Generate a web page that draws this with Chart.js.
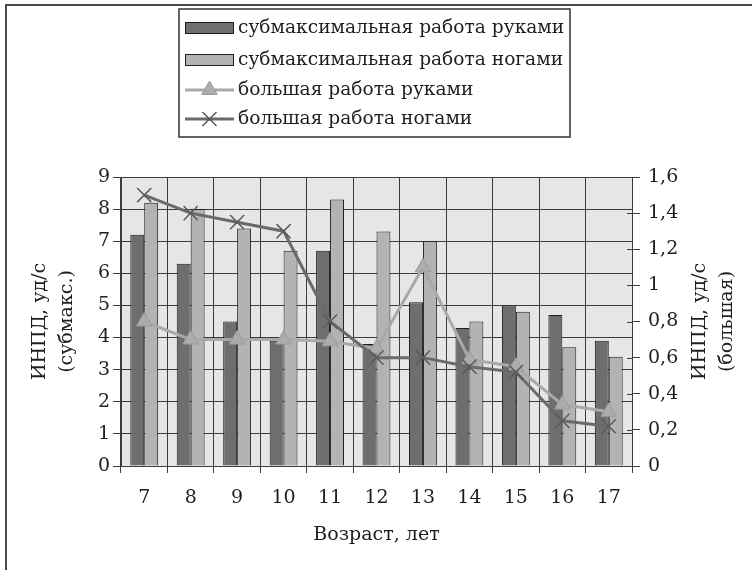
<!DOCTYPE html>
<html>
<head>
<meta charset="utf-8">
<script src="https://cdn.jsdelivr.net/npm/chart.js@4/dist/chart.umd.min.js"></script>
<style>
  html, body { margin: 0; padding: 0; background: #ffffff; }
  #wrap { position: relative; width: 752px; height: 570px; }
</style>
</head>
<body>
<div id="wrap"><canvas id="c" width="752" height="570"></canvas></div>
<script>
// Age groups, years
const ages = ['7', '8', '9', '10', '11', '12', '13', '14', '15', '16', '17'];

// ИНПД, submaximal work (left axis)
const subArms = [7.2, 6.3, 4.5, 3.9, 6.7, 3.8, 5.1, 4.3, 5.0, 4.7, 3.9];
const subLegs = [8.2, 8.0, 7.4, 6.7, 8.3, 7.3, 7.0, 4.5, 4.8, 3.7, 3.4];

// ИНПД, heavy work (right axis)
const bigArms = [0.80, 0.70, 0.70, 0.70, 0.69, 0.65, 1.10, 0.59, 0.55, 0.34, 0.30];
const bigLegs = [1.50, 1.40, 1.35, 1.30, 0.80, 0.60, 0.60, 0.55, 0.52, 0.25, 0.22];

// Axis labels
const leftTitle = ['ИНПД, уд/с', '(субмакс.)'];
const rightTitle = ['ИНПД, уд/с', '(большая)'];
const xTitle = 'Возраст, лет';

const FONT = 'DejaVu Serif';
const INK = '#1e1e1e';
const GRID = '#3c3c3c';

Chart.defaults.font.family = FONT;
Chart.defaults.font.size = 19;
Chart.defaults.color = INK;

// Grey plot background, outer frame, right-axis inner ticks, right title, legend
const decor = {
  id: 'decor',
  beforeDraw(chart) {
    const { ctx, chartArea: a } = chart;
    ctx.save();
    ctx.fillStyle = '#e6e6e6';
    ctx.fillRect(a.left, a.top, a.right - a.left, a.bottom - a.top);
    ctx.restore();
  },
  afterDraw(chart) {
    const { ctx, chartArea: a } = chart;
    ctx.save();

    // frame (left and top edges)
    ctx.strokeStyle = '#4a4a4a';
    ctx.lineWidth = 2;
    ctx.beginPath();
    ctx.moveTo(6, 570);
    ctx.lineTo(6, 5);
    ctx.lineTo(752, 5);
    ctx.stroke();

    // right axis ticks crossing into the plot
    const y1 = chart.scales.y1;
    ctx.strokeStyle = GRID;
    ctx.lineWidth = 1;
    y1.ticks.forEach((t, i) => {
      const y = Math.round(y1.getPixelForTick(i)) + 0.5;
      ctx.beginPath();
      ctx.moveTo(a.right - 5, y);
      ctx.lineTo(a.right, y);
      ctx.stroke();
    });

    // right axis title, read bottom-to-top
    ctx.fillStyle = INK;
    ctx.font = '19px "' + FONT + '"';
    ctx.textAlign = 'center';
    ctx.textBaseline = 'middle';
    const cy = (a.top + a.bottom) / 2;
    [700, 727].forEach((x, i) => {
      ctx.save();
      ctx.translate(x, cy);
      ctx.rotate(-Math.PI / 2);
      ctx.fillText(rightTitle[i], 0, 0);
      ctx.restore();
    });

    // legend
    const box = { l: 179, t: 9, r: 570, b: 137 };
    ctx.strokeStyle = '#333333';
    ctx.lineWidth = 1.5;
    ctx.strokeRect(box.l, box.t, box.r - box.l, box.b - box.t);
    const rows = [28, 60, 90, 119];
    const sx = 185, sw = 49, tx = 238;
    ctx.font = '18.6px "' + FONT + '"';
    ctx.textAlign = 'left';
    chart.data.datasets.forEach((ds, i) => {
      const y = rows[i];
      if (ds.type === 'bar') {
        ctx.fillStyle = ds.backgroundColor;
        ctx.fillRect(sx, y - 6, sw, 12);
        ctx.strokeStyle = ds.borderColor;
        ctx.lineWidth = 1;
        ctx.strokeRect(sx + 0.5, y - 5.5, sw - 1, 11);
      } else {
        ctx.strokeStyle = ds.borderColor;
        ctx.lineWidth = 3;
        ctx.beginPath();
        ctx.moveTo(sx, y);
        ctx.lineTo(sx + sw, y);
        ctx.stroke();
        ctx.fillStyle = ds.pointBackgroundColor;
        ctx.strokeStyle = ds.pointBorderColor;
        ctx.lineWidth = ds.pointBorderWidth;
        Chart.helpers.drawPoint(ctx, {
          pointStyle: ds.pointStyle,
          radius: ds.pointRadius,
          borderWidth: ds.pointBorderWidth,
          rotation: 0
        }, sx + sw / 2, y);
      }
      ctx.fillStyle = INK;
      ctx.fillText(ds.label, tx, y);
    });
    ctx.restore();
  }
};

new Chart(document.getElementById('c'), {
  data: {
    labels: ages,
    datasets: [
      {
        type: 'bar',
        label: 'субмаксимальная работа руками',
        data: subArms,
        yAxisID: 'y',
        backgroundColor: '#6e6e70',
        borderColor: '#1e1e1e',
        borderWidth: 1,
        categoryPercentage: 0.6,
        barPercentage: 1.0,
        order: 2
      },
      {
        type: 'bar',
        label: 'субмаксимальная работа ногами',
        data: subLegs,
        yAxisID: 'y',
        backgroundColor: '#b3b3b3',
        borderColor: '#1e1e1e',
        borderWidth: 1,
        categoryPercentage: 0.6,
        barPercentage: 1.0,
        order: 2
      },
      {
        type: 'line',
        label: 'большая работа руками',
        data: bigArms,
        yAxisID: 'y1',
        borderColor: '#a9a9a9',
        borderWidth: 3,
        pointStyle: 'triangle',
        pointRadius: 9,
        pointBackgroundColor: '#acacac',
        pointBorderColor: '#9c9c9c',
        pointBorderWidth: 1,
        tension: 0,
        order: 1
      },
      {
        type: 'line',
        label: 'большая работа ногами',
        data: bigLegs,
        yAxisID: 'y1',
        borderColor: '#6a6a6a',
        borderWidth: 3,
        pointStyle: 'crossRot',
        pointRadius: 10,
        pointBackgroundColor: '#6a6a6a',
        pointBorderColor: '#5a5a5a',
        pointBorderWidth: 1.5,
        tension: 0,
        order: 0
      }
    ]
  },
  options: {
    responsive: false,
    animation: false,
    layout: { padding: { top: 177, left: 0, right: 0, bottom: 0 } },
    plugins: {
      legend: { display: false },
      tooltip: { enabled: false }
    },
    scales: {
      x: {
        offset: true,
        grid: { color: GRID, lineWidth: 1, tickLength: 7, offset: true },
        border: { color: GRID, width: 1 },
        ticks: { padding: 14, color: INK },
        title: {
          display: true,
          text: xTitle,
          color: INK,
          padding: { top: 0, bottom: 24 }
        },
        afterFit(scale) { scale.height = 104; }
      },
      y: {
        position: 'left',
        min: 0,
        max: 9,
        ticks: { stepSize: 1, padding: 3, color: INK },
        grid: { color: GRID, lineWidth: 1, tickLength: 8 },
        border: { color: GRID, width: 1 },
        title: {
          display: true,
          text: leftTitle,
          color: INK,
          font: { size: 19, lineHeight: 1.45 },
          padding: { top: 26, bottom: 0 }
        },
        afterFit(scale) { scale.width = 121; }
      },
      y1: {
        position: 'right',
        min: 0,
        max: 1.6,
        ticks: {
          stepSize: 0.2,
          padding: 8,
          color: INK,
          callback: v => String(Math.round(v * 10) / 10).replace('.', ',')
        },
        grid: { drawOnChartArea: false, color: GRID, lineWidth: 1, tickLength: 8 },
        border: { color: GRID, width: 1 },
        afterFit(scale) { scale.width = 120; }
      }
    }
  },
  plugins: [decor]
});
</script>
</body>
</html>
